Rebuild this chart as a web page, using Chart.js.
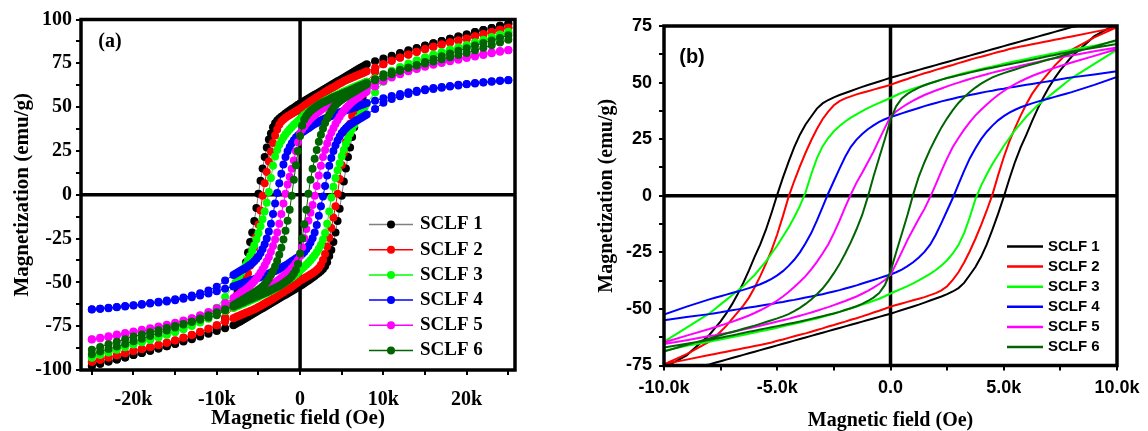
<!DOCTYPE html>
<html>
<head>
<meta charset="utf-8">
<title>SCLF hysteresis loops</title>
<script src="https://cdn.jsdelivr.net/npm/chart.js@4.4.0/dist/chart.umd.min.js"></script>
<style>
  body { margin: 0; background: #fff; }
  .panel { position: absolute; top: 0; }
</style>
</head>
<body>
<div class="panel" style="left:0"><canvas id="loopsFull" width="540" height="431"></canvas></div>
<div class="panel" style="left:580px"><canvas id="loopsZoom" width="568" height="431"></canvas></div>
<script>
// M-H loops of the six SCLF samples: full sweep (a) and the low-field region (b)

const sampleNames = ['SCLF 1', 'SCLF 2', 'SCLF 3', 'SCLF 4', 'SCLF 5', 'SCLF 6'];
const sampleColors = ['#000000', '#ff0000', '#00ff00', '#0000ff', '#ff00ff', '#006400'];

// applied field (Oe) on the way down from +25 kOe; the return sweep uses the same steps upward
const fieldDown = [
    25000, 24000, 23000, 22000, 21000, 20000, 19000, 18000, 17000, 16000, 15000, 14000, 13000, 12000, 11000, 10000, 9000,
    8000, 7750, 7500, 7250, 7000, 6750, 6500, 6250, 6000, 5750, 5500, 5250, 5000, 4750, 4500, 4250, 4000, 3750, 3500, 3250,
    3000, 2750, 2500, 2250, 2000, 1750, 1500, 1250, 1000, 750, 500, 250, 0,
    -250, -500, -750, -1000, -1250, -1500, -1750, -2000, -2250, -2500, -2750, -3000, -3250, -3500, -3750, -4000,
    -4250, -4500, -4750, -5000, -5250, -5500, -5750, -6000, -6250, -6500, -6750, -7000, -7250, -7500, -7750, -8000,
    -9000, -10000, -11000, -12000, -13000, -14000, -15000, -16000, -17000, -18000, -19000, -20000, -21000, -22000, -23000, -24000, -25000
];
const fieldUp = fieldDown.slice().reverse();

// magnetization (emu/g) on the descending (Down) and ascending (Up) branches
const sclf1Down = [
    97.6, 96.4, 95.2, 94.0, 92.8, 91.5, 90.3, 89.0, 87.7, 86.4, 85.1, 83.8, 82.4, 80.9, 79.3, 77.8, 76.2,
    74.5, 73.8, 73.1, 72.4, 71.7, 71.0, 70.3, 69.6, 68.9, 68.2, 67.5, 66.8, 66.1, 65.4, 64.7, 64.0, 63.3, 62.6, 61.9, 61.2,
    60.5, 59.8, 59.1, 58.4, 57.7, 57.0, 56.3, 55.6, 54.9, 54.2, 53.5, 52.8, 52.1,
    51.3, 50.5, 49.7, 48.9, 48.1, 47.2, 46.3, 45.4, 44.5, 43.5, 42.3, 40.8, 38.5, 35.0, 31.5, 27.0,
    21.5, 15.0, 8.0, 0.5, -7.5, -15.0, -21.5, -27.0, -33.0, -38.5, -43.5, -48.0, -52.0, -55.5, -58.5, -61.5,
    -70.5, -76.0, -78.5, -80.3, -82.0, -83.5, -85.0, -86.4, -87.7, -89.0, -90.3, -91.5, -92.8, -94.0, -95.2, -96.4, -97.6
];
const sclf1Up = [
    -97.6, -96.4, -95.2, -94.0, -92.8, -91.5, -90.3, -89.0, -87.7, -86.4, -85.1, -83.8, -82.4, -80.9, -79.3, -77.8, -76.2,
    -74.5, -73.8, -73.1, -72.4, -71.7, -71.0, -70.3, -69.6, -68.9, -68.2, -67.5, -66.8, -66.1, -65.4, -64.7, -64.0, -63.3, -62.6, -61.9, -61.2,
    -60.5, -59.8, -59.1, -58.4, -57.7, -57.0, -56.3, -55.6, -54.9, -54.2, -53.5, -52.8, -52.1,
    -51.3, -50.5, -49.7, -48.9, -48.1, -47.2, -46.3, -45.4, -44.5, -43.5, -42.3, -40.8, -38.5, -35.0, -31.5, -27.0,
    -21.5, -15.0, -8.0, -0.5, 7.5, 15.0, 21.5, 27.0, 33.0, 38.5, 43.5, 48.0, 52.0, 55.5, 58.5, 61.5,
    70.5, 76.0, 78.5, 80.3, 82.0, 83.5, 85.0, 86.4, 87.7, 89.0, 90.3, 91.5, 92.8, 94.0, 95.2, 96.4, 97.6
];
const sclf2Down = [
    95.3, 94.1, 92.9, 91.6, 90.4, 89.1, 88.0, 86.9, 85.7, 84.4, 83.0, 81.5, 79.9, 78.2, 76.4, 74.4, 72.4,
    70.4, 69.9, 69.4, 68.9, 68.4, 67.9, 67.4, 66.9, 66.4, 65.9, 65.4, 64.8, 64.1, 63.5, 62.8, 62.1, 61.4, 60.8, 60.1, 59.3,
    58.6, 57.8, 57.1, 56.3, 55.6, 54.8, 54.1, 53.3, 52.5, 51.6, 50.8, 49.9, 49.0,
    48.3, 47.6, 46.9, 46.2, 45.5, 44.8, 43.9, 43.0, 41.8, 40.0, 37.2, 33.8, 29.5, 24.5, 19.0, 13.0,
    6.5, -0.5, -9.0, -17.0, -24.0, -30.0, -35.5, -40.5, -45.0, -48.5, -51.5, -54.5, -57.5, -60.0, -62.5, -64.5,
    -70.0, -74.5, -76.5, -78.3, -80.0, -81.6, -83.1, -84.5, -85.8, -87.0, -88.0, -89.0, -90.3, -91.6, -92.9, -94.1, -95.3
];
const sclf2Up = [
    -95.3, -94.1, -92.9, -91.6, -90.4, -89.1, -88.0, -86.9, -85.7, -84.4, -83.0, -81.5, -79.9, -78.2, -76.4, -74.4, -72.4,
    -70.4, -69.9, -69.4, -68.9, -68.4, -67.9, -67.4, -66.9, -66.4, -65.9, -65.4, -64.8, -64.1, -63.5, -62.8, -62.1, -61.4, -60.8, -60.1, -59.3,
    -58.6, -57.8, -57.1, -56.3, -55.6, -54.8, -54.1, -53.3, -52.5, -51.6, -50.8, -49.9, -49.0,
    -48.3, -47.6, -46.9, -46.2, -45.5, -44.8, -43.9, -43.0, -41.8, -40.0, -37.2, -33.8, -29.5, -24.5, -19.0, -13.0,
    -6.5, 0.5, 9.0, 17.0, 24.0, 30.0, 35.5, 40.5, 45.0, 48.5, 51.5, 54.5, 57.5, 60.0, 62.5, 64.5,
    70.0, 74.5, 76.5, 78.3, 80.0, 81.6, 83.1, 84.5, 85.8, 87.0, 88.0, 89.0, 90.3, 91.6, 92.9, 94.1, 95.3
];
const sclf3Down = [
    93.0, 91.5, 90.0, 88.5, 87.0, 85.5, 84.2, 82.9, 81.5, 80.0, 78.4, 76.7, 74.9, 72.9, 70.8, 68.5, 66.3,
    64.5, 64.0, 63.5, 63.0, 62.5, 62.0, 61.5, 61.0, 60.4, 59.9, 59.4, 58.9, 58.3, 57.7, 57.1, 56.6, 56.0, 55.4, 54.8, 54.2,
    53.5, 52.8, 52.0, 51.3, 50.5, 49.7, 48.9, 48.1, 47.3, 46.4, 45.5, 44.4, 43.2,
    42.1, 41.0, 39.9, 38.7, 37.4, 36.0, 34.5, 32.8, 30.8, 28.5, 25.5, 21.8, 16.5, 9.5, 1.5, -4.5,
    -9.5, -14.0, -18.0, -22.0, -25.5, -29.0, -32.0, -35.0, -37.5, -40.0, -42.0, -44.0, -46.0, -48.0, -50.0, -52.0,
    -58.3, -64.5, -68.3, -71.3, -73.8, -76.0, -77.9, -79.5, -80.9, -82.3, -83.6, -84.8, -86.3, -87.8, -89.3, -90.9, -92.4
];
const sclf3Up = [
    -93.0, -91.5, -90.0, -88.5, -87.0, -85.5, -84.2, -82.9, -81.5, -80.0, -78.4, -76.7, -74.9, -72.9, -70.8, -68.5, -66.3,
    -64.5, -64.0, -63.5, -63.0, -62.5, -62.0, -61.5, -61.0, -60.4, -59.9, -59.4, -58.9, -58.3, -57.7, -57.1, -56.6, -56.0, -55.4, -54.8, -54.2,
    -53.5, -52.8, -52.0, -51.3, -50.5, -49.7, -48.9, -48.1, -47.3, -46.4, -45.5, -44.4, -43.2,
    -42.1, -41.0, -39.9, -38.7, -37.4, -36.0, -34.5, -32.8, -30.8, -28.5, -25.5, -21.8, -16.5, -9.5, -1.5, 4.5,
    9.5, 14.0, 18.0, 22.0, 25.5, 29.0, 32.0, 35.0, 37.5, 40.0, 42.0, 44.0, 46.0, 48.0, 50.0, 52.0,
    58.3, 64.5, 68.3, 71.3, 73.8, 76.0, 77.9, 79.5, 80.9, 82.3, 83.6, 84.8, 86.3, 87.8, 89.3, 90.9, 92.4
];
const sclf4Down = [
    65.5, 65.1, 64.7, 64.2, 63.7, 63.2, 62.7, 62.1, 61.5, 60.9, 60.2, 59.4, 58.5, 57.5, 56.3, 55.0, 53.6,
    52.3, 51.9, 51.5, 51.0, 50.6, 50.2, 49.8, 49.4, 49.0, 48.6, 48.2, 47.8, 47.3, 46.9, 46.4, 46.0, 45.5, 45.0, 44.5, 44.0,
    43.5, 42.9, 42.3, 41.7, 41.0, 40.3, 39.6, 38.8, 38.0, 37.2, 36.4, 35.6, 34.8,
    33.8, 32.6, 31.1, 29.4, 27.3, 24.8, 21.6, 17.2, 12.0, 6.5, 1.0, -5.0, -11.0, -16.5, -21.0, -25.0,
    -28.3, -31.0, -33.3, -35.2, -36.7, -38.0, -39.1, -40.0, -40.8, -41.6, -42.3, -43.0, -43.7, -44.4, -45.1, -45.8,
    -49.0, -52.5, -54.6, -56.2, -57.5, -58.6, -59.6, -60.4, -61.1, -61.8, -62.4, -63.0, -63.5, -64.0, -64.5, -65.0, -65.4
];
const sclf4Up = [
    -65.5, -65.1, -64.7, -64.2, -63.7, -63.2, -62.7, -62.1, -61.5, -60.9, -60.2, -59.4, -58.5, -57.5, -56.3, -55.0, -53.6,
    -52.3, -51.9, -51.5, -51.0, -50.6, -50.2, -49.8, -49.4, -49.0, -48.6, -48.2, -47.8, -47.3, -46.9, -46.4, -46.0, -45.5, -45.0, -44.5, -44.0,
    -43.5, -42.9, -42.3, -41.7, -41.0, -40.3, -39.6, -38.8, -38.0, -37.2, -36.4, -35.6, -34.8,
    -33.8, -32.6, -31.1, -29.4, -27.3, -24.8, -21.6, -17.2, -12.0, -6.5, -1.0, 5.0, 11.0, 16.5, 21.0, 25.0,
    28.3, 31.0, 33.3, 35.2, 36.7, 38.0, 39.1, 40.0, 40.8, 41.6, 42.3, 43.0, 43.7, 44.4, 45.1, 45.8,
    49.0, 52.5, 54.6, 56.2, 57.5, 58.6, 59.6, 60.4, 61.1, 61.8, 62.4, 63.0, 63.5, 64.0, 64.5, 65.0, 65.4
];
const sclf5Down = [
    82.6, 82.0, 81.3, 80.5, 79.7, 78.8, 77.9, 76.9, 75.8, 74.6, 73.4, 72.0, 70.6, 69.0, 67.3, 65.5, 63.8,
    62.0, 61.6, 61.1, 60.7, 60.3, 59.7, 59.1, 58.6, 58.0, 57.4, 56.8, 56.2, 55.6, 55.0, 54.4, 53.7, 53.0, 52.3, 51.6, 50.8,
    50.0, 49.2, 48.3, 47.4, 46.5, 45.5, 44.5, 43.3, 42.0, 40.6, 39.0, 37.2, 35.0,
    30.0, 24.8, 19.5, 14.8, 10.2, 5.8, 0.6, -5.0, -11.0, -16.5, -21.5, -25.5, -29.2, -32.5, -35.5, -38.0,
    -40.3, -42.5, -44.5, -46.3, -47.9, -49.3, -50.6, -51.8, -52.9, -53.9, -54.8, -55.7, -56.5, -57.3, -58.1, -58.9,
    -61.8, -64.8, -66.9, -68.8, -70.4, -71.8, -73.1, -74.2, -75.2, -76.2, -77.1, -78.0, -78.9, -79.8, -80.7, -81.6, -82.5
];
const sclf5Up = [
    -82.6, -82.0, -81.3, -80.5, -79.7, -78.8, -77.9, -76.9, -75.8, -74.6, -73.4, -72.0, -70.6, -69.0, -67.3, -65.5, -63.8,
    -62.0, -61.6, -61.1, -60.7, -60.3, -59.7, -59.1, -58.6, -58.0, -57.4, -56.8, -56.2, -55.6, -55.0, -54.4, -53.7, -53.0, -52.3, -51.6, -50.8,
    -50.0, -49.2, -48.3, -47.4, -46.5, -45.5, -44.5, -43.3, -42.0, -40.6, -39.0, -37.2, -35.0,
    -30.0, -24.8, -19.5, -14.8, -10.2, -5.8, -0.6, 5.0, 11.0, 16.5, 21.5, 25.5, 29.2, 32.5, 35.5, 38.0,
    40.3, 42.5, 44.5, 46.3, 47.9, 49.3, 50.6, 51.8, 52.9, 53.9, 54.8, 55.7, 56.5, 57.3, 58.1, 58.9,
    61.8, 64.8, 66.9, 68.8, 70.4, 71.8, 73.1, 74.2, 75.2, 76.2, 77.1, 78.0, 78.9, 79.8, 80.7, 81.6, 82.5
];
const sclf6Down = [
    91.0, 89.5, 88.0, 86.6, 85.1, 83.6, 82.1, 80.6, 79.0, 77.4, 75.8, 74.1, 72.4, 70.6, 68.8, 67.0, 65.4,
    63.7, 63.2, 62.7, 62.2, 61.7, 61.2, 60.6, 60.1, 59.6, 59.1, 58.6, 58.1, 57.6, 57.1, 56.6, 56.1, 55.6, 55.0, 54.4, 53.8,
    53.2, 52.6, 52.0, 51.3, 50.5, 49.7, 48.8, 47.8, 46.5, 45.0, 43.0, 39.5, 33.5,
    25.0, 16.8, 8.5, -0.5, -8.5, -14.8, -20.5, -25.5, -30.2, -34.2, -37.8, -41.0, -43.5, -45.8, -47.8, -49.5,
    -51.0, -52.3, -53.3, -54.2, -55.0, -55.8, -56.6, -57.4, -58.1, -58.8, -59.5, -60.2, -60.9, -61.6, -62.3, -63.0,
    -65.9, -68.8, -70.1, -71.3, -72.5, -73.7, -74.9, -76.1, -77.3, -78.5, -79.7, -80.9, -82.4, -83.9, -85.3, -86.9, -88.5
];
const sclf6Up = [
    -91.0, -89.5, -88.0, -86.6, -85.1, -83.6, -82.1, -80.6, -79.0, -77.4, -75.8, -74.1, -72.4, -70.6, -68.8, -67.0, -65.4,
    -63.7, -63.2, -62.7, -62.2, -61.7, -61.2, -60.6, -60.1, -59.6, -59.1, -58.6, -58.1, -57.6, -57.1, -56.6, -56.1, -55.6, -55.0, -54.4, -53.8,
    -53.2, -52.6, -52.0, -51.3, -50.5, -49.7, -48.8, -47.8, -46.5, -45.0, -43.0, -39.5, -33.5,
    -25.0, -16.8, -8.5, 0.5, 8.5, 14.8, 20.5, 25.5, 30.2, 34.2, 37.8, 41.0, 43.5, 45.8, 47.8, 49.5,
    51.0, 52.3, 53.3, 54.2, 55.0, 55.8, 56.6, 57.4, 58.1, 58.8, 59.5, 60.2, 60.9, 61.6, 62.3, 63.0,
    65.9, 68.8, 70.1, 71.3, 72.5, 73.7, 74.9, 76.1, 77.3, 78.5, 79.7, 80.9, 82.4, 83.9, 85.3, 86.9, 88.5
];

// tick positions and labels
const fieldMarksFull = [-25000, -20000, -15000, -10000, -5000, 0, 5000, 10000, 15000, 20000, 25000];
const fieldTicksFull = [-20000, -10000, 0, 10000, 20000];
const fieldLabelsFull = ['-20k', '-10k', '0', '10k', '20k'];
const fieldTicksZoom = [-10000, -5000, 0, 5000, 10000];
const fieldLabelsZoom = ['-10.0k', '-5.0k', '0.0', '5.0k', '10.0k'];
const magTicksFull = [-100, -75, -50, -25, 0, 25, 50, 75, 100];
const magTicksZoom = [-75, -50, -25, 0, 25, 50, 75];

// one closed loop: down branch followed by the up branch
function loopPoints(down, up) {
    const pts = fieldDown.map((h, i) => ({ x: h, y: down[i] }));
    return pts.concat(fieldUp.map((h, i) => ({ x: h, y: up[i] })));
}

const loops = [
    loopPoints(sclf1Down, sclf1Up),
    loopPoints(sclf2Down, sclf2Up),
    loopPoints(sclf3Down, sclf3Up),
    loopPoints(sclf4Down, sclf4Up),
    loopPoints(sclf5Down, sclf5Up),
    loopPoints(sclf6Down, sclf6Up)
];

function tickText(values, labels) {
    return function (value) {
        const i = values.indexOf(value);
        return i === -1 ? '' : labels[i];
    };
}

// box, zero lines, panel tag and the sample key
const framePlugin = {
    id: 'frame',
    beforeDatasetsDraw(chart, args, opts) {
        const { ctx, chartArea: area, scales: { x, y } } = chart;
        const x0 = x.getPixelForValue(0);
        const y0 = y.getPixelForValue(0);
        ctx.save();
        ctx.strokeStyle = '#000';
        ctx.lineWidth = opts.lineWidth;
        ctx.beginPath();
        ctx.moveTo(x0, area.top);
        ctx.lineTo(x0, area.bottom);
        ctx.moveTo(area.left, y0);
        ctx.lineTo(area.right, y0);
        ctx.stroke();
        ctx.restore();
    },
    afterDatasetsDraw(chart, args, opts) {
        const { ctx, chartArea: area } = chart;
        ctx.save();
        ctx.strokeStyle = '#000';
        ctx.lineWidth = opts.lineWidth;
        ctx.strokeRect(area.left, area.top, area.right - area.left, area.bottom - area.top);

        ctx.fillStyle = '#000';
        ctx.font = opts.tagFont;
        ctx.textAlign = 'center';
        ctx.textBaseline = 'middle';
        ctx.fillText(opts.tag, opts.tagX, opts.tagY);

        ctx.font = opts.keyFont;
        ctx.textAlign = 'left';
        chart.data.datasets.forEach((ds, i) => {
            const rowY = opts.keyY + i * opts.keyStep;
            ctx.strokeStyle = ds.borderColor;
            ctx.lineWidth = opts.keyLineWidth;
            ctx.beginPath();
            ctx.moveTo(opts.keyX, rowY);
            ctx.lineTo(opts.keyX + opts.keyLength, rowY);
            ctx.stroke();
            if (opts.keyMarker) {
                ctx.fillStyle = ds.pointBackgroundColor;
                ctx.beginPath();
                ctx.arc(opts.keyX + opts.keyLength / 2, rowY, opts.keyMarker, 0, Math.PI * 2);
                ctx.fill();
            }
            ctx.fillStyle = '#000';
            ctx.fillText(ds.label, opts.keyX + opts.keyLength + opts.keyGap, rowY);
        });
        ctx.restore();
    }
};

const serif = "'Liberation Serif', 'Times New Roman', serif";
const sans = "'Liberation Sans', Arial, sans-serif";

const tickGrid = { drawOnChartArea: false, color: '#000', lineWidth: 2, tickLength: 5 };

// (a) full field sweep, symbols joined by thin lines
new Chart(document.getElementById('loopsFull'), {
    type: 'scatter',
    data: {
        datasets: sampleNames.map((name, i) => ({
            label: name,
            data: loops[i],
            showLine: true,
            borderColor: i === 0 ? '#808080' : sampleColors[i],
            borderWidth: 1,
            pointRadius: 4,
            pointHoverRadius: 4,
            pointBorderWidth: 0,
            pointBackgroundColor: sampleColors[i],
            order: sampleNames.length - i,
            clip: 6
        }))
    },
    options: {
        responsive: false,
        animation: false,
        events: [],
        layout: { padding: { top: 19.5, right: 25, bottom: 0, left: 0 } },
        plugins: {
            legend: { display: false },
            tooltip: { enabled: false },
            frame: {
                lineWidth: 3.5,
                tag: '(a)', tagFont: 'bold 20px ' + serif, tagX: 110, tagY: 42,
                keyX: 369, keyY: 224.5, keyStep: 25.2, keyLength: 44, keyGap: 7,
                keyLineWidth: 1.5, keyMarker: 4, keyFont: 'bold 19px ' + serif
            }
        },
        scales: {
            x: {
                type: 'linear',
                min: -26300,
                max: 25800,
                afterBuildTicks: function (scale) {
                    scale.ticks = fieldMarksFull.map(v => ({ value: v }));
                },
                afterFit: function (scale) { scale.height = 61; },
                border: { display: false },
                grid: tickGrid,
                ticks: {
                    autoSkip: false, maxRotation: 0,
                    padding: 13, color: '#000',
                    font: { family: serif, size: 20, weight: 'bold' },
                    callback: tickText(fieldTicksFull, fieldLabelsFull)
                },
                title: {
                    display: true, text: 'Magnetic field (Oe)', color: '#000',
                    font: { family: serif, size: 21, weight: 'bold', lineHeight: 1 },
                    padding: { top: 0, bottom: 2 }
                }
            },
            y: {
                min: -100,
                max: 100,
                afterFit: function (scale) { scale.width = 81; },
                border: { display: false },
                grid: tickGrid,
                ticks: {
                    stepSize: 12.5, autoSkip: false, padding: 4, color: '#000',
                    font: { family: serif, size: 20, weight: 'bold' },
                    callback: tickText(magTicksFull, magTicksFull.map(String))
                },
                title: {
                    display: true, text: 'Magnetization (emu/g)', color: '#000',
                    font: { family: serif, size: 21, weight: 'bold', lineHeight: 1 },
                    padding: { top: 12, bottom: 0 }
                }
            }
        }
    },
    plugins: [framePlugin]
});

// (b) same loops, low-field region drawn as lines
new Chart(document.getElementById('loopsZoom'), {
    type: 'scatter',
    data: {
        datasets: sampleNames.map((name, i) => ({
            label: name,
            data: loops[i],
            showLine: true,
            borderColor: sampleColors[i],
            borderWidth: 2,
            pointRadius: 0,
            pointHoverRadius: 0,
            order: sampleNames.length - i,
            clip: 0
        }))
    },
    options: {
        responsive: false,
        animation: false,
        events: [],
        layout: { padding: { top: 26, right: 31, bottom: 0, left: 0 } },
        plugins: {
            legend: { display: false },
            tooltip: { enabled: false },
            frame: {
                lineWidth: 3.5,
                tag: '(b)', tagFont: 'bold 20px ' + sans, tagX: 112, tagY: 57,
                keyX: 427, keyY: 246.5, keyStep: 20.1, keyLength: 36, keyGap: 5,
                keyLineWidth: 2.5, keyMarker: 0, keyFont: 'bold 15px ' + sans
            }
        },
        scales: {
            x: {
                type: 'linear',
                min: -10000,
                max: 10000,
                afterFit: function (scale) { scale.height = 65.5; },
                border: { display: false },
                grid: tickGrid,
                ticks: {
                    stepSize: 2500, autoSkip: false, maxRotation: 0,
                    padding: 7, color: '#000',
                    font: { family: sans, size: 18, weight: 'bold' },
                    callback: tickText(fieldTicksZoom, fieldLabelsZoom)
                },
                title: {
                    display: true, text: 'Magnetic field (Oe)', color: '#000',
                    font: { family: serif, size: 20, weight: 'bold', lineHeight: 1 },
                    padding: { top: 0, bottom: 0 }
                }
            },
            y: {
                min: -75,
                max: 75,
                afterFit: function (scale) { scale.width = 84; },
                border: { display: false },
                grid: tickGrid,
                ticks: {
                    stepSize: 12.5, autoSkip: false, padding: 7, color: '#000',
                    font: { family: sans, size: 18, weight: 'bold' },
                    callback: tickText(magTicksZoom, magTicksZoom.map(String))
                },
                title: {
                    display: true, text: 'Magnetization (emu/g)', color: '#000',
                    font: { family: serif, size: 20, weight: 'bold', lineHeight: 1 },
                    padding: { top: 17, bottom: 0 }
                }
            }
        }
    },
    plugins: [framePlugin]
});
</script>
</body>
</html>
